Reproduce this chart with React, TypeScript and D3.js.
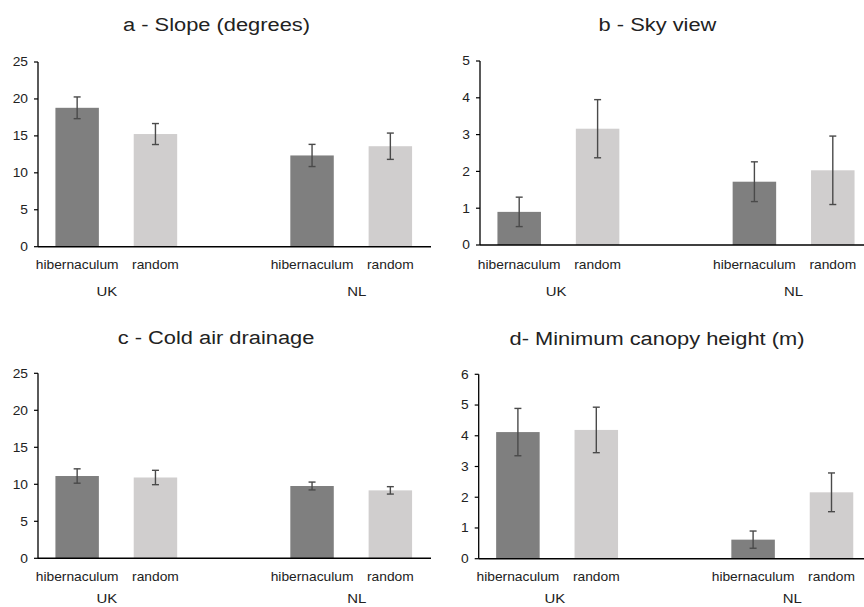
import * as d3 from 'd3'

// bar order inside each panel: UK hibernaculum, UK random, NL hibernaculum, NL random
const barLabels = ['hibernaculum', 'random', 'hibernaculum', 'random']
const groupLabels = ['UK', 'NL']

const slopeMeans = [18.8, 15.25, 12.35, 13.6]
const slopeErr = [1.47, 1.42, 1.5, 1.78]

const skyMeans = [0.9, 3.16, 1.72, 2.03]
const skyErr = [0.4, 0.79, 0.54, 0.93]

const coldMeans = [11.12, 10.92, 9.77, 9.18]
const coldErr = [0.97, 0.97, 0.53, 0.5]

const canopyMeans = [4.12, 4.19, 0.62, 2.16]
const canopyErr = [0.77, 0.74, 0.28, 0.63]

const panelTitles = [
  'a - Slope (degrees)',
  'b - Sky view',
  'c - Cold air drainage',
  'd- Minimum canopy height (m)',
]
const yMaxes = [25, 5, 25, 6]
const yTicks = [
  [0, 5, 10, 15, 20, 25],
  [0, 1, 2, 3, 4, 5],
  [0, 5, 10, 15, 20, 25],
  [0, 1, 2, 3, 4, 5, 6],
]

const DARK = '#7f7f7f'
const LIGHT = '#d0cece'
const SX = 1.15
const FONT = "'Liberation Sans', Arial, sans-serif"

// slots on the category axis, with one empty slot between the countries
const slots = ['UK-h', 'UK-r', 'gap', 'NL-h', 'NL-r']
const barSlots = ['UK-h', 'UK-r', 'NL-h', 'NL-r']

interface Layout {
  x0: number
  step: number
  axisEnd: number
  y0: number
  yTop: number
  titleX: number
  titleY: number
  labelY: number
  groupY: number
  groupPos: number[]
}

const layouts: Layout[] = [
  { x0: 38, step: 78.3, axisEnd: 431, y0: 246.7, yTop: 62, titleX: 216.5, titleY: 31, labelY: 268.5, groupY: 296, groupPos: [0.88, 4.07] },
  { x0: 480, step: 78.4, axisEnd: 864, y0: 245, yTop: 61, titleX: 657.5, titleY: 31, labelY: 268.5, groupY: 296, groupPos: [0.97, 4.0] },
  { x0: 38, step: 78.3, axisEnd: 431, y0: 558.3, yTop: 373.3, titleX: 216, titleY: 343.5, labelY: 580.5, groupY: 603, groupPos: [0.88, 4.07] },
  { x0: 478.7, step: 78.4, axisEnd: 864, y0: 558.7, yTop: 374.3, titleX: 657, titleY: 344.5, labelY: 580.5, groupY: 603, groupPos: [0.97, 4.0] },
]

const panelMeans = [slopeMeans, skyMeans, coldMeans, canopyMeans]
const panelErrs = [slopeErr, skyErr, coldErr, canopyErr]

function Txt({ x, y, size, anchor = 'middle', children }: { x: number; y: number; size: number; anchor?: string; children: string }) {
  return (
    <text
      transform={`translate(${x},${y}) scale(${SX},1)`}
      textAnchor={anchor}
      fontSize={size}
      fontFamily={FONT}
      fill="#222"
    >
      {children}
    </text>
  )
}

function Panel({ index }: { index: number }) {
  const l = layouts[index]
  const means = panelMeans[index]
  const errs = panelErrs[index]

  const x = d3
    .scaleBand<string>()
    .domain(slots)
    .range([l.x0, l.x0 + l.step * slots.length])
    .paddingInner(0.445)
    .paddingOuter(0.2225)

  const y = d3.scaleLinear().domain([0, yMaxes[index]]).range([l.y0, l.yTop])
  const slotPos = d3.scaleLinear().domain([0, 1]).range([l.x0, l.x0 + l.step])

  return (
    <g>
      <Txt x={l.titleX} y={l.titleY} size={19}>
        {panelTitles[index]}
      </Txt>

      {barSlots.map((s, i) => (
        <rect
          key={s}
          x={x(s)}
          y={y(means[i])}
          width={x.bandwidth()}
          height={y(0) - y(means[i])}
          fill={i % 2 === 0 ? DARK : LIGHT}
        />
      ))}

      {barSlots.map((s, i) => {
        const cx = (x(s) ?? 0) + x.bandwidth() / 2
        const hi = y(means[i] + errs[i])
        const lo = y(means[i] - errs[i])
        return (
          <g key={s} stroke="#4a4a4a" strokeWidth={1.4}>
            <line x1={cx} x2={cx} y1={hi} y2={lo} />
            <line x1={cx - 3.5} x2={cx + 3.5} y1={hi} y2={hi} />
            <line x1={cx - 3.5} x2={cx + 3.5} y1={lo} y2={lo} />
          </g>
        )
      })}

      <line x1={l.x0} x2={l.x0} y1={l.yTop} y2={l.y0} stroke="#000" strokeWidth={1.3} />
      <line x1={l.x0} x2={l.axisEnd} y1={l.y0} y2={l.y0} stroke="#000" strokeWidth={1.5} />

      {yTicks[index].map((t) => (
        <g key={t}>
          <line x1={l.x0 - 4} x2={l.x0} y1={y(t)} y2={y(t)} stroke="#000" strokeWidth={1.2} />
          <Txt x={l.x0 - 10} y={y(t) + 4.3} size={12} anchor="end">
            {String(t)}
          </Txt>
        </g>
      ))}

      {barSlots.map((s, i) => (
        <Txt key={s} x={(x(s) ?? 0) + x.bandwidth() / 2} y={l.labelY} size={12}>
          {barLabels[i]}
        </Txt>
      ))}

      {groupLabels.map((g, i) => (
        <Txt key={g} x={slotPos(l.groupPos[i])} y={l.groupY} size={13}>
          {g}
        </Txt>
      ))}
    </g>
  )
}

export default function App() {
  return (
    <svg
      width={864}
      height={607}
      style={{ position: 'absolute', left: 0, top: 0, background: '#fff' }}
    >
      <rect width={864} height={607} fill="#fff" />
      {panelTitles.map((_, i) => (
        <Panel key={i} index={i} />
      ))}
    </svg>
  )
}
